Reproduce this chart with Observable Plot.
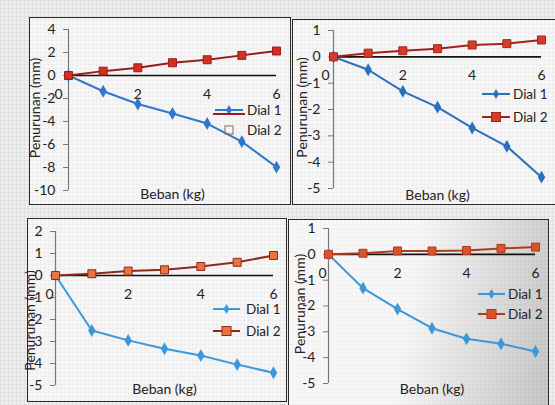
<!DOCTYPE html>
<html><head><meta charset="utf-8">
<script src="https://cdn.jsdelivr.net/npm/d3@7"></script>
<script src="https://cdn.jsdelivr.net/npm/@observablehq/plot@0.6"></script>
<style>
body{margin:0;background:#fff;}
#page{position:relative;width:555px;height:405px;overflow:hidden;background-color:#eeeeee;
background-image:repeating-linear-gradient(0deg, rgba(0,0,0,0.045) 0 1px, transparent 1px 4px),repeating-linear-gradient(90deg, rgba(0,0,0,0.045) 0 1px, transparent 1px 4px);
font-family:Lato, "Open Sans", sans-serif;}
.panel{position:absolute;border:1.5px solid #2a2a2a;box-sizing:border-box;background:rgba(255,255,255,0.45);}
.chart{position:absolute;}
#legend{position:absolute;left:0;top:0;}
</style></head>
<body><div id="page"></div>
<script>
// ---- data ----
const beban = [0, 1, 2, 3, 4, 5, 6];
const seriesNames = ["Dial 1", "Dial 2"];
const xLabel = "Beban (kg)";
const yLabel = "Penurunan (mm)";
const xTicks = [0, 2, 4, 6];

const dial1A = [0, -1.37, -2.48, -3.3, -4.18, -5.75, -7.97];
const dial2A = [0, 0.38, 0.67, 1.11, 1.37, 1.75, 2.13];
const yTicksA = [4, 2, 0, -2, -4, -6, -8, -10];

const dial1B = [0, -0.49, -1.31, -1.91, -2.7, -3.4, -4.57];
const dial2B = [0, 0.14, 0.23, 0.31, 0.45, 0.5, 0.64];
const yTicksB = [1, 0, -1, -2, -3, -4, -5];

const dial1C = [0, -2.5, -2.95, -3.33, -3.64, -4.05, -4.42];
const dial2C = [0, 0.08, 0.2, 0.26, 0.41, 0.6, 0.91];
const yTicksC = [2, 1, 0, -1, -2, -3, -4, -5];

const dial1D = [0, -1.31, -2.12, -2.86, -3.27, -3.46, -3.76];
const dial2D = [0, 0.04, 0.13, 0.13, 0.15, 0.23, 0.28];
const yTicksD = [1, 0, -1, -2, -3, -4, -5];

// ---- layout / style ----
const panels = [
  {d1: dial1A, d2: dial2A, ticks: yTicksA, box: {left: 29, top: 17, w: 262, h: 188}, svg: {w: 262, h: 188},
   m: {l: 39, r: 15, t: 12, b: 15}, ylab: {dx: -33, dy: -2}, xlabDy: 8, zeroDx: -10,
   c1: "#2f78cc", c2line: "#9b1c1c", c2mark: "#d1301f",
   leg: {y1: 110, y2: 130, x1: 215, x2: 243, tx: 247, odd: true}},
  {d1: dial1B, d2: dial2B, ticks: yTicksB, box: {left: 292, top: 19, w: 270, h: 186}, svg: {w: 263, h: 186},
   m: {l: 41, r: 14, t: 11, b: 17}, ylab: {dx: -31, dy: -2}, xlabDy: 11, zeroDx: -8,
   c1: "#2a6fbd", c2line: "#a3231b", c2mark: "#d63d28",
   leg: {y1: 94, y2: 117, x1: 482, x2: 510, tx: 513}},
  {d1: dial1C, d2: dial2C, ticks: yTicksC, box: {left: 27, top: 218, w: 260, h: 184}, svg: {w: 260, h: 184},
   m: {l: 28, r: 14, t: 13, b: 17}, ylab: {dx: -25, dy: 12}, xlabDy: 8, zeroDx: -6,
   c1: "#3b98da", c2line: "#8f2a1a", c2mark: "#ea7440",
   leg: {y1: 309, y2: 331, x1: 213, x2: 240, tx: 246}},
  {d1: dial1D, d2: dial2D, ticks: yTicksD, box: {left: 288, top: 219, w: 261, h: 195}, svg: {w: 261, h: 186},
   m: {l: 40, r: 14, t: 9, b: 22}, ylab: {dx: -28, dy: -2}, xlabDy: 10, zeroDx: -6,
   c1: "#3c98d6", c2line: "#b03a20", c2mark: "#d9532b",
   leg: {y1: 294, y2: 314, x1: 478, x2: 505, tx: 508}}
];

const page = document.getElementById("page");

panels.forEach((p, idx) => {
  const box = document.createElement("div");
  box.className = "panel";
  Object.assign(box.style, {left: p.box.left + "px", top: p.box.top + "px", width: p.box.w + "px", height: p.box.h + "px"});
  if (idx === 3) box.style.background = "linear-gradient(100deg, rgba(255,255,255,0.55) 45%, rgba(150,150,150,0.45) 100%)";
  page.appendChild(box);

  const ydom = [p.ticks[p.ticks.length - 1], p.ticks[0]];
  const s1 = beban.map((x, i) => ({x, y: p.d1[i]}));
  const s2 = beban.map((x, i) => ({x, y: p.d2[i]}));
  const chart = Plot.plot({
    width: p.svg.w, height: p.svg.h,
    marginLeft: p.m.l, marginRight: p.m.r, marginTop: p.m.t, marginBottom: p.m.b,
    x: {domain: [0, 6], axis: null},
    y: {domain: ydom, axis: null},
    style: {fontFamily: "Lato, 'Open Sans', sans-serif", fontSize: "14px", color: "#222", background: "transparent", overflow: "visible"},
    marks: [
      Plot.ruleX([0], {y1: ydom[0], y2: ydom[1], stroke: "#777", strokeWidth: 1.2}),
      Plot.axisY({ticks: p.ticks, tickSize: 5, tickPadding: 8, label: null, stroke: "#777", fontSize: 14, tickFormat: d => String(d)}),
      Plot.ruleY([0], {stroke: "#111", strokeWidth: 1.7}),
      Plot.text(xTicks.filter(d => d !== 0), {x: d => d, y: () => 0, text: d => String(d), dy: 19, fontSize: 14}),
      Plot.text(xTicks.filter(d => d === 0), {x: d => d, y: () => 0, text: d => String(d), dy: 19, dx: p.zeroDx, fontSize: 14}),
      Plot.line(s1, {x: "x", y: "y", stroke: p.c1, strokeWidth: 2}),
      Plot.dot(s1, {x: "x", y: "y", symbol: "diamond", r: 3, fill: p.c1, stroke: p.c1}),
      Plot.line(s2, {x: "x", y: "y", stroke: p.c2line, strokeWidth: 2}),
      Plot.dot(s2, {x: "x", y: "y", symbol: "square", r: 4.5, fill: p.c2mark, stroke: p.c2line, strokeWidth: 1}),
      Plot.text([yLabel], {frameAnchor: "left", textAnchor: "middle", text: d => d, rotate: -90, dx: p.ylab.dx, dy: p.ylab.dy, fontSize: 14}),
      Plot.text([xLabel], {frameAnchor: "bottom", text: d => d, dy: p.xlabDy, fontSize: 14})
    ]
  });
  chart.classList.add("chart");
  chart.style.left = p.box.left + "px";
  chart.style.top = p.box.top + "px";
  page.appendChild(chart);
});

// ---- legends ----
const leg = d3.select(page).append("svg").attr("id", "legend").attr("width", 555).attr("height", 405)
  .style("font-family", "Lato, 'Open Sans', sans-serif").style("font-size", "13.5px");
panels.forEach(p => {
  const L = p.leg, mid = (L.x1 + L.x2) / 2;
  // Dial 1
  leg.append("line").attr("x1", L.x1).attr("x2", L.x2).attr("y1", L.y1).attr("y2", L.y1)
    .attr("stroke", p.c1).attr("stroke-width", 2);
  leg.append("path").attr("d", d3.symbol(d3.symbolDiamond, 30)()).attr("transform", `translate(${mid},${L.y1})`).attr("fill", p.c1);
  leg.append("text").attr("x", L.tx).attr("y", L.y1).attr("dy", "0.35em").attr("fill", "#222").text(seriesNames[0]);
  // Dial 2
  if (L.odd) {
    leg.append("line").attr("x1", L.x1 - 2).attr("x2", L.x2 + 2).attr("y1", L.y1 + 4).attr("y2", L.y1 + 4)
      .attr("stroke", p.c2line).attr("stroke-width", 2);
    leg.append("rect").attr("x", mid - 4).attr("y", L.y2 - 4).attr("width", 8).attr("height", 8)
      .attr("fill", "none").attr("stroke", "#8a6a60").attr("stroke-width", 1);
  } else {
    leg.append("line").attr("x1", L.x1).attr("x2", L.x2).attr("y1", L.y2).attr("y2", L.y2)
      .attr("stroke", p.c2line).attr("stroke-width", 2);
    leg.append("rect").attr("x", mid - 4.5).attr("y", L.y2 - 4.5).attr("width", 9).attr("height", 9)
      .attr("fill", p.c2mark).attr("stroke", p.c2line).attr("stroke-width", 1);
  }
  leg.append("text").attr("x", L.tx).attr("y", L.y2).attr("dy", "0.35em").attr("fill", "#222").text(seriesNames[1]);
});
</script></body></html>
